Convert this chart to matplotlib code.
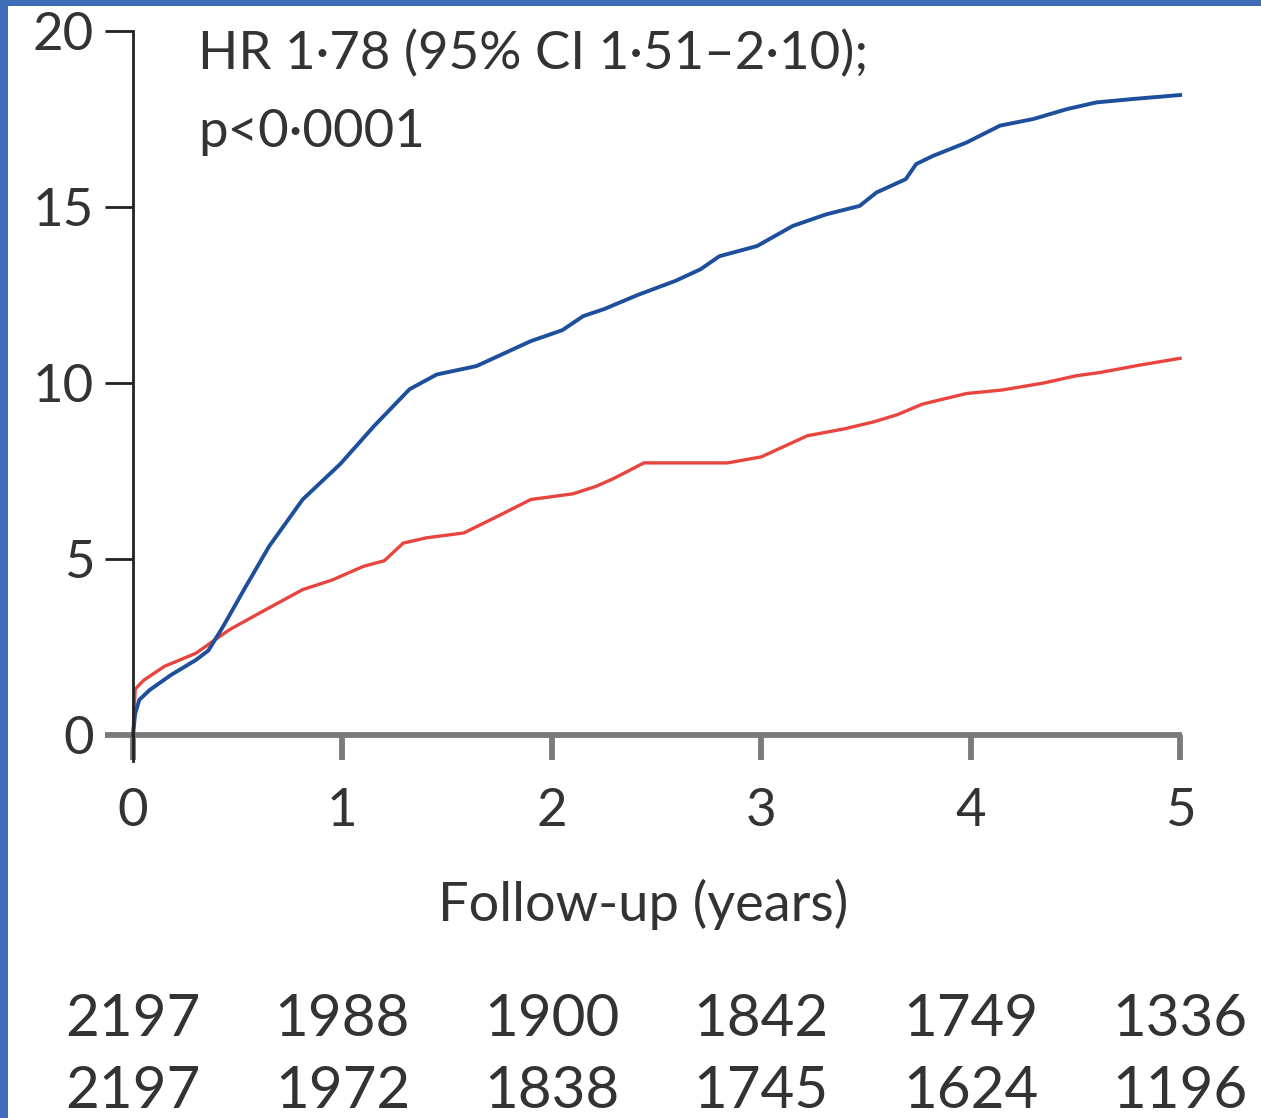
import matplotlib
matplotlib.use("Agg")
import matplotlib.pyplot as plt
from matplotlib.transforms import blended_transform_factory
from matplotlib.patches import Rectangle

plt.rcParams['font.family'] = ['Lato', 'DejaVu Sans']

# Cumulative incidence (%) by follow-up time (years)
blue_t = [0, 0.01, 0.03, 0.08, 0.18, 0.30, 0.36, 0.43, 0.53, 0.65, 0.81, 0.99,
          1.15, 1.32, 1.45, 1.64, 1.90, 2.05, 2.15, 2.25, 2.41, 2.59, 2.71, 2.80,
          2.98, 3.15, 3.31, 3.47, 3.55, 3.69, 3.74, 3.82, 3.98, 4.14, 4.30, 4.46,
          4.60, 4.78, 5.0]
blue_v = [0, 0.6, 1.0, 1.28, 1.7, 2.13, 2.4, 3.08, 4.13, 5.36, 6.69, 7.7,
          8.77, 9.82, 10.24, 10.48, 11.19, 11.5, 11.9, 12.1, 12.5, 12.9, 13.23, 13.6,
          13.89, 14.46, 14.79, 15.03, 15.41, 15.79, 16.22, 16.45, 16.83, 17.31, 17.5, 17.78,
          17.97, 18.07, 18.18]

red_t = [0, 0.01, 0.05, 0.15, 0.30, 0.46, 0.60, 0.81, 0.95, 1.10, 1.20, 1.29, 1.40,
         1.58, 1.74, 1.90, 2.10, 2.21, 2.30, 2.44, 2.60, 2.84, 3.0, 3.22,
         3.40, 3.54, 3.65, 3.77, 3.98, 4.15, 4.35, 4.50, 4.62, 4.80, 5.0]
red_v = [0, 1.3, 1.55, 1.95, 2.32, 2.99, 3.45, 4.13, 4.4, 4.79, 4.95, 5.45, 5.6,
         5.74, 6.21, 6.69, 6.85, 7.06, 7.3, 7.73, 7.73, 7.73, 7.9, 8.5,
         8.7, 8.9, 9.1, 9.4, 9.7, 9.8, 10.0, 10.2, 10.3, 10.5, 10.7]

x_ticks = [0, 1, 2, 3, 4, 5]
y_ticks = [0, 5, 10, 15, 20]
risk_blue = ["2197", "1988", "1900", "1842", "1749", "1336"]
risk_red = ["2197", "1972", "1838", "1745", "1624", "1196"]

hr_line = "HR 1\u00b778 (95% CI 1\u00b751\u20132\u00b710);"
p_line = "p<0\u00b70001"
xlabel = "Follow-up (years)"

text_color = "#333333"
blue_color = "#1d4f9c"
red_color = "#e8453f"

fig = plt.figure(figsize=(12.61, 11.18), dpi=100)
fig.patch.set_facecolor("white")

# slide frame along the top and left edges
fig.patches.append(Rectangle((0, 0), 0.0065, 1, transform=fig.transFigure,
                             facecolor="#3f6cb8", edgecolor="none", zorder=0))
fig.patches.append(Rectangle((0, 0.9946), 1, 0.0054, transform=fig.transFigure,
                             facecolor="#3f6cb8", edgecolor="none", zorder=0))

ax = fig.add_axes([0.1055, 0.3426, 0.8303, 0.6297])
ax.set_facecolor("none")

ax.plot(blue_t, blue_v, color=blue_color, lw=2.8, clip_on=False, zorder=3,
        solid_joinstyle="round")
ax.plot(red_t, red_v, color=red_color, lw=2.4, clip_on=False, zorder=2,
        solid_joinstyle="round")

ax.set_xlim(0, 5)
ax.set_ylim(0, 20)

for s in ["top", "right"]:
    ax.spines[s].set_visible(False)
ax.spines["left"].set_color("#222222")
ax.spines["left"].set_linewidth(2.0)
ax.spines["left"].set_bounds(-0.75, 20)
ax.spines["left"].set_zorder(4)
ax.spines["bottom"].set_color("#7a7a7a")
ax.spines["bottom"].set_linewidth(4.2)
ax.spines["bottom"].set_bounds(-0.135, 5.01)
ax.spines["bottom"].set_capstyle("butt")

ax.set_xticks(x_ticks)
ax.set_yticks(y_ticks)
ax.tick_params(axis="x", length=18, width=4.2, color="#7a7a7a", pad=20,
               labelsize=38, labelcolor=text_color)
ax.tick_params(axis="y", length=20, width=2.0, color="#222222", pad=8,
               labelsize=38, labelcolor=text_color)

ax.set_xlabel(xlabel, fontsize=39, color=text_color, labelpad=32)
ax.xaxis.label.set_x(0.487)

ax.text(0.31, 18.92, hr_line, fontsize=38, color=text_color,
        va="baseline", ha="left")
ax.text(0.31, 16.70, p_line, fontsize=38, color=text_color,
        va="baseline", ha="left")

# numbers at risk under each year
trans = blended_transform_factory(ax.transData, fig.transFigure)
for x, a, b in zip(x_ticks, risk_blue, risk_red):
    ax.text(x, 0.088, a, transform=trans, ha="center", va="center",
            fontsize=42, color=text_color, clip_on=False)
    ax.text(x, 0.024, b, transform=trans, ha="center", va="center",
            fontsize=42, color=text_color, clip_on=False)

fig.savefig("out.png", dpi=100)
